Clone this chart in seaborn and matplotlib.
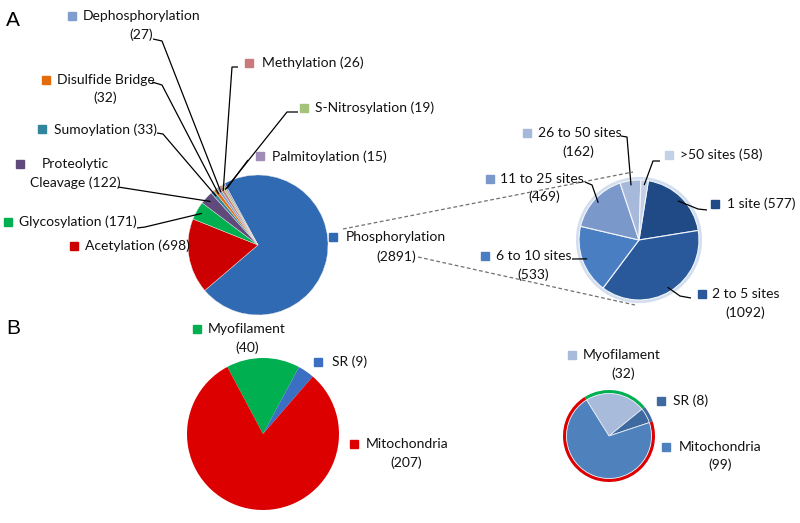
import numpy as np
import matplotlib
matplotlib.use("Agg")
import matplotlib.pyplot as plt
from matplotlib.patches import Circle
import seaborn as sns

# ---------------- data ----------------
ptm_names = ["Phosphorylation", "Acetylation", "Glycosylation", "Proteolytic Cleavage",
             "Sumoylation", "Disulfide Bridge", "Dephosphorylation", "Methylation",
             "S-Nitrosylation", "Palmitoylation"]
ptm_counts = [2891, 698, 171, 122, 33, 32, 27, 26, 19, 15]

site_names = ["1 site", "2 to 5 sites", "6 to 10 sites", "11 to 25 sites",
              "26 to 50 sites", ">50 sites"]
site_counts = [577, 1092, 533, 469, 162, 58]

loc_names = ["Myofilament", "SR", "Mitochondria"]
loc_counts_all = [40, 9, 207]
loc_counts_sub = [32, 8, 99]

# ---------------- style ----------------
sns.set_theme(style="white")
plt.rcParams['font.family'] = ['Lato', 'DejaVu Sans']

ptm_colors = ["#2F6AB2", "#CC0000", "#00B050", "#604A7B", "#31859C",
              "#E46C0A", "#7F9ECF", "#C97B7B", "#A5C27A", "#9F8DB8"]
site_colors = ["#1F4A85", "#29599A", "#4A7EC2", "#7B98CB", "#A6B9DA", "#C2D0E8"]
loc_colors_all = ["#00B050", "#3A6FC4", "#DD0000"]
loc_colors_sub = ["#A9BBDB", "#3F6AA0", "#4F81BD"]

W, H = 800, 523
fig = plt.figure(figsize=(W / 100, H / 100), dpi=100)
ax = fig.add_axes([0, 0, 1, 1])

def Y(y):
    return H - y

TXT = "#111111"
FS = 10

def draw_pie(values, colors, cx, cy, r, start, edge=None, lw=0.0):
    wedges, _ = ax.pie(values, colors=colors, startangle=start, counterclock=False,
                       radius=r, center=(cx, Y(cy)),
                       wedgeprops=dict(linewidth=lw, edgecolor=edge if edge else "none"))
    return wedges

def wedge_point(w, cx, cy, r, frac=0.92):
    th = np.deg2rad((w.theta1 + w.theta2) / 2)
    return (cx + frac * r * np.cos(th), Y(cy) + frac * r * np.sin(th))

def label(text, color, sq, pos, leader=None, wedge=None, pie=None):
    ax.plot(sq[0], Y(sq[1]), marker='s', markersize=5.6, color=color, mec=color, ls='none')
    lines = text.split("\n")
    for line, (x, y, ha) in zip(lines, pos):
        ax.text(x, Y(y), line, ha=ha, va='center', fontsize=FS, color=TXT)
    if leader is not None and wedge is not None:
        pts = [(px, Y(py)) for px, py in leader]
        pts.append(wedge_point(wedge, *pie))
        xs, ys = zip(*pts)
        ax.plot(xs, ys, color="black", lw=0.9, solid_capstyle='butt')

# ---------------- Panel A: main pie ----------------
pieA = (258, 245, 70)
wA = draw_pie(ptm_counts, ptm_colors, pieA[0], pieA[1], pieA[2], 118.5,
              edge="#e8e8e8", lw=0.3)

layoutA = {
    "Phosphorylation": dict(fmt="{n}\n({c})", sq=(333, 237),
                            pos=[(346, 237, 'left'), (396, 257, 'center')]),
    "Acetylation": dict(fmt="{n} ({c})", sq=(74, 246), pos=[(85, 246, 'left')]),
    "Glycosylation": dict(fmt="{n} ({c})", sq=(8, 222), pos=[(19, 222, 'left')],
                          leader=[(137, 228), (145, 227)]),
    "Proteolytic Cleavage": dict(fmt="Proteolytic\nCleavage ({c})", sq=(20, 164),
                                 pos=[(75, 164, 'center'), (75, 183, 'center')],
                                 leader=[(118, 187)]),
    "Sumoylation": dict(fmt="{n} ({c})", sq=(42, 129), pos=[(54, 130, 'left')],
                        leader=[(157, 133), (163, 134)]),
    "Disulfide Bridge": dict(fmt="{n}\n({c})", sq=(46, 80),
                             pos=[(57, 80, 'left'), (105, 98, 'center')],
                             leader=[(152, 82), (162, 85)]),
    "Dephosphorylation": dict(fmt="{n}\n({c})", sq=(72, 16),
                              pos=[(83, 16, 'left'), (141, 35, 'center')],
                              leader=[(153, 39), (162, 41)]),
    "Methylation": dict(fmt="{n} ({c})", sq=(249, 63), pos=[(262, 63, 'left')],
                        leader=[(238, 67), (232, 67)]),
    "S-Nitrosylation": dict(fmt="{n} ({c})", sq=(304, 108), pos=[(315, 108, 'left')],
                            leader=[(298, 112), (287, 112)]),
    "Palmitoylation": dict(fmt="{n} ({c})", sq=(260, 156), pos=[(272, 157, 'left')],
                           leader=[(248, 160)]),
}
for name, cnt, col, w in zip(ptm_names, ptm_counts, ptm_colors, wA):
    L = layoutA[name]
    label(L["fmt"].format(n=name, c=cnt), col, L["sq"], L["pos"],
          L.get("leader"), w, pieA)

# ---------------- Panel A: breakdown pie ----------------
pieS = (639, 240, 60)
ax.add_patch(Circle((pieS[0], Y(pieS[1])), pieS[2] + 1.0, fill=False,
                    edgecolor="#d3deee", lw=3.0, zorder=0))
wS = draw_pie(site_counts, site_colors, pieS[0], pieS[1], pieS[2], 81,
              edge="#f2f5fa", lw=0.8)

layoutS = {
    "1 site": dict(fmt="{n} ({c})", sq=(715, 204), pos=[(727, 204, 'left')],
                   leader=[(707, 210), (698, 209)]),
    "2 to 5 sites": dict(fmt="{n}\n({c})", sq=(702, 294),
                         pos=[(712, 294, 'left'), (745, 313, 'center')],
                         leader=[(691, 298), (680, 296)]),
    "6 to 10 sites": dict(fmt="{n}\n({c})", sq=(485, 256),
                          pos=[(496, 256, 'left'), (533, 275, 'center')],
                          leader=[(572, 259)]),
    "11 to 25 sites": dict(fmt="{n}\n({c})", sq=(490, 179),
                           pos=[(500, 179, 'left'), (544, 197, 'center')],
                           leader=[(585, 182), (592, 185)]),
    "26 to 50 sites": dict(fmt="{n}\n({c})", sq=(527, 133),
                           pos=[(538, 133, 'left'), (578, 152, 'center')],
                           leader=[(621, 136), (627, 137)]),
    ">50 sites": dict(fmt="{n} ({c})", sq=(669, 155), pos=[(680, 155, 'left')],
                      leader=[(660, 161), (653, 161)]),
}
for name, cnt, col, w in zip(site_names, site_counts, site_colors, wS):
    L = layoutS[name]
    label(L["fmt"].format(n=name, c=cnt), col, L["sq"], L["pos"],
          L.get("leader"), w, pieS)

# dashed connectors
ax.plot([343, 633], [Y(229), Y(172)], color="#707070", lw=0.9, ls=(0, (3, 2)))
ax.plot([418, 635], [Y(257), Y(305)], color="#707070", lw=0.9, ls=(0, (3, 2)))

# ---------------- Panel B: left pie ----------------
pieB1 = (263, 434, 76)
wB1 = draw_pie(loc_counts_all, loc_colors_all, pieB1[0], pieB1[1], pieB1[2], 118)
layoutB1 = {
    "Myofilament": dict(fmt="{n}\n({c})", sq=(197, 329),
                        pos=[(208, 329, 'left'), (247, 348, 'center')]),
    "SR": dict(fmt="{n} ({c})", sq=(318, 362), pos=[(332, 362, 'left')]),
    "Mitochondria": dict(fmt="{n}\n({c})", sq=(354, 444),
                         pos=[(366, 444, 'left'), (406, 463, 'center')]),
}
for name, cnt, col in zip(loc_names, loc_counts_all, loc_colors_all):
    L = layoutB1[name]
    label(L["fmt"].format(n=name, c=cnt), col, L["sq"], L["pos"])

# ---------------- Panel B: right pie with ring ----------------
pieB2 = (609, 436, 46)
ax.pie(loc_counts_sub, colors=[loc_colors_all[0], loc_colors_sub[1], loc_colors_all[2]],
       startangle=122, counterclock=False, radius=pieB2[2],
       center=(pieB2[0], Y(pieB2[1])), wedgeprops=dict(width=3.5, linewidth=0))
draw_pie(loc_counts_sub, loc_colors_sub, pieB2[0], pieB2[1], pieB2[2] - 3.5, 122,
         edge="#e6ecf5", lw=0.6)
layoutB2 = {
    "Myofilament": dict(fmt="{n}\n({c})", sq=(572, 355),
                        pos=[(583, 355, 'left'), (623, 374, 'center')]),
    "SR": dict(fmt="{n} ({c})", sq=(661, 401), pos=[(673, 401, 'left')]),
    "Mitochondria": dict(fmt="{n}\n({c})", sq=(666, 447),
                         pos=[(679, 447, 'left'), (720, 465, 'center')]),
}
for name, cnt, col in zip(loc_names, loc_counts_sub, loc_colors_sub):
    L = layoutB2[name]
    label(L["fmt"].format(n=name, c=cnt), col, L["sq"], L["pos"])

# panel letters
ax.text(13, Y(20), "A", fontsize=15, ha='center', va='center', color="black",
        family=['Liberation Sans', 'DejaVu Sans'])
ax.text(13, Y(328), "B", fontsize=15, ha='center', va='center', color="black",
        family=['Liberation Sans', 'DejaVu Sans'])

ax.set_xlim(0, W)
ax.set_ylim(0, H)
ax.set_aspect('equal')
ax.axis('off')
fig.savefig("out.png", dpi=100, facecolor="white")
